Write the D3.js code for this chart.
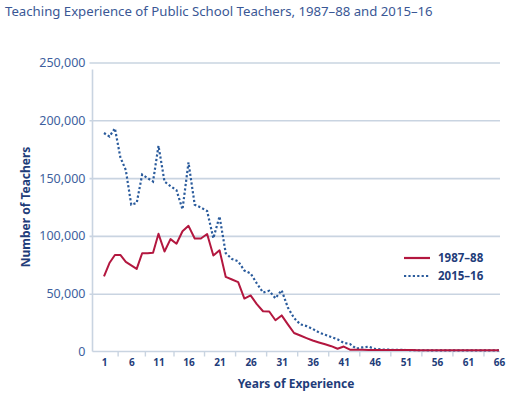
<!DOCTYPE html>
<html>
<head>
<meta charset="utf-8">
<script src="https://cdn.jsdelivr.net/npm/d3@7"></script>
<style>
  body { margin: 0; background: #fff; }
  text { font-family: "Noto Sans", "DejaVu Sans", sans-serif; }
</style>
</head>
<body>
<div id="chart"></div>
<script>
// years of experience (categories)
const years = d3.range(1, 67);

// number of teachers, 1987-88
const teachers1987 = [
  65000, 76500, 83500, 83500, 77500, 74500, 71500, 85000, 85000, 85500,
  101800, 86500, 97200, 93200, 104000, 108700, 97800, 97800, 101600, 83000,
  87500, 64500, 62300, 60000, 45800, 48500, 41000, 34800, 34600, 27000,
  31200, 23500, 16000, 13800, 11600, 9500, 7800, 6200, 4600, 2400,
  4300, 1600, 1500, 1500, 1400, 1400, 1300, 1300, 1300, 1200,
  1200, 1200, 1100, 1100, 1100, 1000, 1000, 1000, 1000, 1000,
  1000, 1000, 1000, 1000, 1000, 1000
];

// number of teachers, 2015-16
const teachers2015 = [
  189000, 186000, 193000, 168000, 157000, 127000, 128500, 153000, 150000, 147000,
  178000, 147000, 143000, 139500, 123000, 163500, 127000, 124500, 121500, 98000,
  116800, 85000, 80000, 78000, 70000, 67500, 59000, 51000, 52500, 46000,
  53000, 38000, 29000, 23500, 22000, 19500, 16500, 14500, 12500, 10500,
  7500, 6500, 2500, 3500, 4200, 2200, 1800, 1600, 1500, 1400,
  1300, 1200, 1100, 1100, 1000, 1000, 1000, 1000, 1000, 1000,
  1000, 1000, 1000, 1000, 1000, 1000
];

const xLabels = [1, 6, 11, 16, 21, 26, 31, 36, 41, 46, 51, 56, 61, 66];
const xTickMarks = [3.5, 8.5, 13.5, 18.5, 23.5, 28.5, 33.5, 38.5, 43.5, 48.5, 53.5, 58.5, 63.5];
const yTicks = [0, 50000, 100000, 150000, 200000, 250000];
const seriesNames = ["1987\u201388", "2015\u201316"];

const width = 515, height = 396;
const plot = { left: 92.5, right: 500, top: 62.5, bottom: 351.5 };

const red = "#b3173f", blue = "#2a5b9c", labelBlue = "#1f3d7a", tickBlue = "#3e5f9e", grid = "#c9d4e1";

const svg = d3.select("#chart").append("svg")
  .attr("width", width)
  .attr("height", height);

// title
svg.append("text")
  .attr("x", 5)
  .attr("y", 16)
  .attr("font-size", 13.2)
  .attr("fill", "#3a5795")
  .text("Teaching Experience of Public School Teachers, 1987\u201388 and 2015\u201316");

// scales
const x = d3.scaleLinear().domain([1, 11, 16, 66]).range([104, 158.5, 188.5, 499]);
const y = d3.scaleLinear().domain([0, 250000]).range([plot.bottom, plot.top]);

// gridlines
svg.append("g")
  .attr("transform", `translate(${plot.left - 3},0)`)
  .call(d3.axisRight(y).tickValues(yTicks.slice(1)).tickSize(plot.right - plot.left + 3).tickFormat(""))
  .call(g => g.select(".domain").remove())
  .call(g => g.selectAll("line").attr("stroke", grid).attr("stroke-width", 1.6));

// y axis labels
svg.append("g")
  .attr("transform", `translate(${plot.left - 5},0)`)
  .call(d3.axisLeft(y).tickValues(yTicks).tickSize(0).tickPadding(2).tickFormat(d3.format(",")))
  .call(g => g.select(".domain").remove())
  .call(g => g.selectAll("text")
    .attr("font-family", "'Noto Sans', sans-serif")
    .attr("font-size", 12.5)
    .attr("fill", tickBlue));

// y axis line
svg.append("line")
  .attr("x1", plot.left).attr("x2", plot.left)
  .attr("y1", plot.top + 7).attr("y2", plot.bottom)
  .attr("stroke", grid).attr("stroke-width", 1.6);

// x axis line
svg.append("line")
  .attr("x1", plot.left).attr("x2", plot.right)
  .attr("y1", plot.bottom).attr("y2", plot.bottom)
  .attr("stroke", grid).attr("stroke-width", 1.6);

// x tick marks
svg.append("g")
  .attr("transform", `translate(0,${plot.bottom})`)
  .call(d3.axisBottom(x).tickValues(xTickMarks).tickSize(5).tickFormat(""))
  .call(g => g.select(".domain").remove())
  .call(g => g.selectAll("line").attr("stroke", grid).attr("stroke-width", 1.4));

// x labels
svg.append("g")
  .attr("transform", `translate(0,${plot.bottom})`)
  .call(d3.axisBottom(x).tickValues(xLabels).tickSize(0).tickPadding(7))
  .call(g => g.select(".domain").remove())
  .call(g => g.selectAll("text")
    .attr("font-family", "'Noto Sans', sans-serif")
    .attr("font-size", 10)
    .attr("font-weight", "bold")
    .attr("fill", labelBlue));

// axis titles
svg.append("text")
  .attr("x", 296)
  .attr("y", 388)
  .attr("text-anchor", "middle")
  .attr("font-size", 12)
  .attr("font-weight", "bold")
  .attr("fill", labelBlue)
  .text("Years of Experience");

svg.append("text")
  .attr("transform", "translate(30,207) rotate(-90)")
  .attr("text-anchor", "middle")
  .attr("font-size", 12)
  .attr("font-weight", "bold")
  .attr("fill", labelBlue)
  .text("Number of Teachers");

// lines
const line = d3.line()
  .x((d, i) => x(years[i]))
  .y(d => y(d));

svg.append("path")
  .datum(teachers2015)
  .attr("fill", "none")
  .attr("stroke", blue)
  .attr("stroke-width", 2.2)
  .attr("stroke-dasharray", "2.2,2.2")
  .attr("d", line);

svg.append("path")
  .datum(teachers1987)
  .attr("fill", "none")
  .attr("stroke", red)
  .attr("stroke-width", 2)
  .attr("stroke-linejoin", "round")
  .attr("d", line);

// legend
const legend = svg.append("g").attr("transform", "translate(404,258)");
[red, blue].forEach((c, i) => {
  legend.append("line")
    .attr("x1", 0).attr("x2", 26)
    .attr("y1", i * 18).attr("y2", i * 18)
    .attr("stroke", c)
    .attr("stroke-width", 2.2)
    .attr("stroke-dasharray", i === 1 ? "2.2,2.2" : null);
  legend.append("text")
    .attr("x", 34)
    .attr("y", i * 18)
    .attr("dy", "0.35em")
    .attr("font-size", 11.5)
    .attr("font-weight", "bold")
    .attr("fill", labelBlue)
    .text(seriesNames[i]);
});
</script>
</body>
</html>
